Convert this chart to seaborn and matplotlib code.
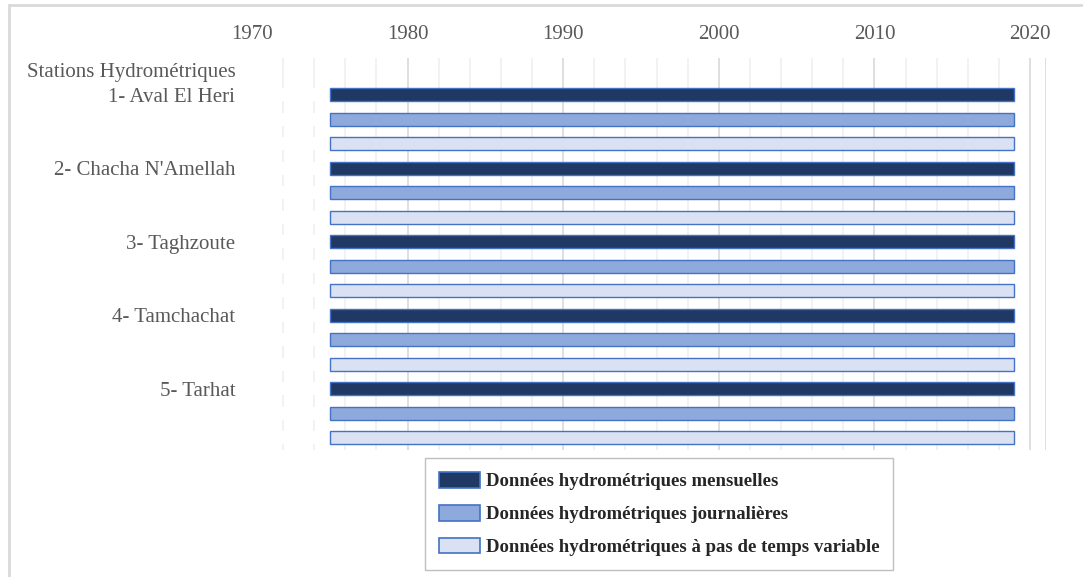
import numpy as np
import pandas as pd
import matplotlib
matplotlib.use('Agg')
import matplotlib.pyplot as plt
import matplotlib.patches as mpatches
import seaborn as sns

# Données
stations = ['1- Aval El Heri', "2- Chacha N'Amellah", '3- Taghzoute', '4- Tamchachat', '5- Tarhat']
types_donnees = ['Données hydrométriques mensuelles',
                 'Données hydrométriques journalières',
                 'Données hydrométriques à pas de temps variable']
debut = [1975, 1975, 1975, 1975, 1975]
fin = [2019, 2019, 2019, 2019, 2019]
couleurs = ['#1F3864', '#8EA9DB', '#D9E1F2']
annees_ticks = [1970, 1980, 1990, 2000, 2010, 2020]

rows = []
for s, d, f in zip(stations, debut, fin):
    for t in types_donnees:
        rows.append({'station': s, 'type': t, 'debut': d, 'duree': f - d})
df = pd.DataFrame(rows)

sns.set_theme(style='white')
plt.rcParams['font.family'] = ['Liberation Serif', 'DejaVu Serif']

fig = plt.figure(figsize=(10.83, 5.77), dpi=100)
ax = fig.add_axes([252 / 1083, 1 - 450 / 577, (1045.6 - 252) / 1083, (450 - 58) / 577])

# grille verticale
for yr in range(1972, 2021, 2):
    col = '#D9D9D9' if yr % 10 == 0 else '#F0F0F0'
    ax.axvline(yr, color=col, lw=1.2, zorder=0)
ax.axvline(2021, color='#D9D9D9', lw=1.2, zorder=0)

# barres invisibles (début) puis barres de durée
sns.barplot(data=df, y='station', x='debut', hue='type', hue_order=types_donnees,
            palette=['white'] * 3, dodge=True, width=1.0, gap=0.47, saturation=1,
            linewidth=0, legend=False, ax=ax, zorder=1)
sns.barplot(data=df, y='station', x='duree', hue='type', hue_order=types_donnees,
            palette=couleurs, dodge=True, width=1.0, gap=0.47, left=1975, saturation=1,
            edgecolor='#4472C4', linewidth=1.0, legend=False, ax=ax, zorder=2)

ax.set_xlim(1970, 2021)
ax.set_ylim(4.5, -5 / 6)
ax.xaxis.tick_top()
ax.set_xticks(annees_ticks)
ax.tick_params(axis='x', length=0, pad=10, labelsize=15, labelcolor='#595959')

yt = [-2 / 3] + [i - 1 / 3 for i in range(len(stations))]
ax.set_yticks(yt)
ax.set_yticklabels(['Stations Hydrométriques'] + stations)
ax.tick_params(axis='y', length=0, pad=12, labelsize=15, labelcolor='#595959')
ax.set_xlabel('')
ax.set_ylabel('')
for sp in ['left', 'top', 'bottom', 'right']:
    ax.spines[sp].set_visible(False)

# légende
handles = [mpatches.Patch(facecolor=c, edgecolor='#4472C4', lw=1.2, label=t)
           for c, t in zip(couleurs, types_donnees)]
leg = fig.legend(handles=handles, loc='upper center', bbox_to_anchor=(659 / 1083, 1 - 458 / 577),
                 frameon=True, fancybox=False, edgecolor='#BFBFBF', framealpha=1,
                 prop={'family': 'Liberation Serif', 'weight': 'bold', 'size': 13.5},
                 handlelength=2.2, handleheight=0.9, handletextpad=0.3,
                 labelspacing=0.78, borderpad=0.75, borderaxespad=0)
leg.get_frame().set_linewidth(1.0)

# cadre du graphique
fig.patches.append(mpatches.Rectangle((9 / 1083, -0.1), 1.2, 1.1 - 5 / 577,
                                      transform=fig.transFigure, fill=False,
                                      edgecolor='#D9D9D9', lw=2))

fig.savefig('out.png', dpi=100)
